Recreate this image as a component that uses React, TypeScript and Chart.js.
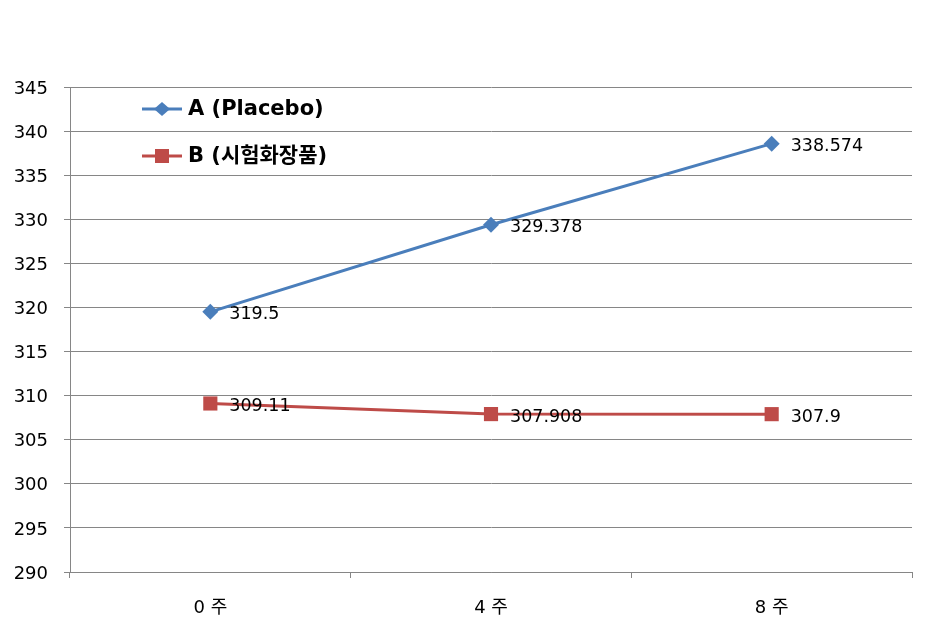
import React, { useEffect, useRef } from "react";
import { Chart, registerables } from "chart.js";

Chart.register(...registerables);

const categories = ["0 주", "4 주", "8 주"];
const seriesA = [319.5, 329.378, 338.574];
const seriesB = [309.11, 307.908, 307.9];
const labelsA = ["319.5", "329.378", "338.574"];
const labelsB = ["309.11", "307.908", "307.9"];
const seriesNames = ["A (Placebo)", "B (시험화장품)"];
const yMin = 290;
const yMax = 345;
const yStep = 5;

const BLUE = "#4A7EBB";
const RED = "#BE4B48";
const GRID = "#868686";
const FONT = "'DejaVu Sans', 'Noto Sans CJK KR', sans-serif";

export default function App() {
  const ref = useRef<HTMLCanvasElement | null>(null);
  useEffect(() => {
    document.body.style.margin = "0";
    const canvas = ref.current!;
    const valueLabels = {
      id: "valueLabels",
      afterDatasetsDraw(chart: any) {
        const ctx = chart.ctx;
        ctx.save();
        ctx.font = `17.5px ${FONT}`;
        ctx.fillStyle = "#000";
        ctx.textAlign = "left";
        ctx.textBaseline = "middle";
        const lbls = [labelsA, labelsB];
        chart.data.datasets.forEach((_: any, di: number) => {
          const meta = chart.getDatasetMeta(di);
          meta.data.forEach((pt: any, i: number) => {
            ctx.fillText(lbls[di][i], pt.x + 19, pt.y + 3);
          });
        });
        ctx.restore();
      },
    };
    const customLegend = {
      id: "customLegend",
      afterDraw(chart: any) {
        const ctx = chart.ctx;
        ctx.save();
        const items = [
          { name: seriesNames[0], color: BLUE, shape: "diamond", y: 109 },
          { name: seriesNames[1], color: RED, shape: "square", y: 156 },
        ];
        items.forEach((it) => {
          ctx.strokeStyle = it.color;
          ctx.lineWidth = 3;
          ctx.beginPath();
          ctx.moveTo(142, it.y);
          ctx.lineTo(182, it.y);
          ctx.stroke();
          ctx.fillStyle = it.color;
          ctx.beginPath();
          if (it.shape === "diamond") {
            ctx.moveTo(162, it.y - 7);
            ctx.lineTo(170, it.y);
            ctx.lineTo(162, it.y + 7);
            ctx.lineTo(154, it.y);
            ctx.closePath();
          } else {
            ctx.rect(155, it.y - 7, 14, 14);
          }
          ctx.fill();
          ctx.fillStyle = "#000";
          ctx.font = `bold 21px ${FONT}`;
          ctx.textAlign = "left";
          ctx.textBaseline = "middle";
          ctx.fillText(it.name, 188, it.y + 1);
        });
        ctx.restore();
      },
    };
    const chart = new Chart(canvas, {
      type: "line",
      data: {
        labels: categories,
        datasets: [
          {
            label: seriesNames[0],
            data: seriesA,
            borderColor: BLUE,
            backgroundColor: BLUE,
            borderWidth: 3,
            pointStyle: "rectRot",
            pointRadius: 8,
            pointBorderWidth: 0,
            tension: 0,
          },
          {
            label: seriesNames[1],
            data: seriesB,
            borderColor: RED,
            backgroundColor: RED,
            borderWidth: 3,
            pointStyle: "rect",
            pointRadius: 10,
            pointBorderWidth: 0,
            tension: 0,
          },
        ],
      },
      options: {
        animation: false,
        responsive: false,
        maintainAspectRatio: false,
        layout: { padding: { left: 0, right: 24, top: 87, bottom: 0 } },
        plugins: {
          legend: { display: false },
          tooltip: { enabled: false },
        },
        scales: {
          x: {
            type: "category",
            offset: true,
            grid: {
              offset: true,
              drawOnChartArea: false,
              drawTicks: true,
              tickLength: 6,
              color: GRID,
            },
            border: { color: GRID, width: 1 },
            ticks: {
              color: "#000",
              font: { family: FONT, size: 18 },
              padding: 20,
            },
            afterFit(scale: any) {
              scale.height = 65;
            },
          },
          y: {
            min: yMin,
            max: yMax,
            grid: { color: GRID, tickLength: 6, lineWidth: 1 },
            border: { color: GRID, width: 1 },
            ticks: {
              stepSize: yStep,
              color: "#000",
              font: { family: FONT, size: 18 },
              padding: 16,
              labelOffset: 2,
            },
            afterFit(scale: any) {
              scale.width = 70;
            },
          },
        },
      },
      plugins: [valueLabels, customLegend],
    } as any);
    return () => chart.destroy();
  }, []);
  return (
    <div style={{ position: "absolute", left: 0, top: 0, width: 936, height: 637, background: "#fff" }}>
      <canvas ref={ref} width={936} height={637} style={{ width: 936, height: 637, display: "block" }} />
    </div>
  );
}
